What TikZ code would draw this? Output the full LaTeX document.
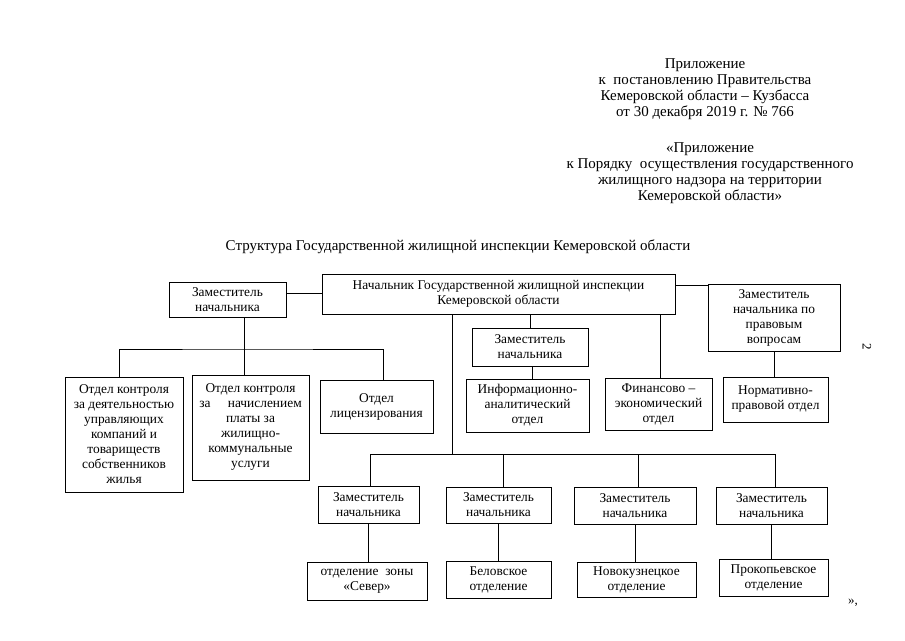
\documentclass[tikz,border=0pt]{standalone}
\usepackage{fontspec}
\setmainfont{Liberation Serif}
\tikzset{
  block/.style={draw,rectangle,line width=0.7pt,inner sep=1pt,align=center,font=\fontsize{13.4}{15}\selectfont},
  link/.style={line width=0.7pt},
  note/.style={align=center,font=\fontsize{15}{16.2}\selectfont}
}

\begin{document}
\begin{tikzpicture}[x=1pt,y=-1pt]
  \useasboundingbox (0,0) rectangle (905,640);
  \node[note] (app1) at (705,89) {Приложение\\к\ \ постановлению Правительства\\Кемеровской области – Кузбасса\\от 30 декабря 2019 г. № 766};
  \node[note] (app2) at (710,173) {«Приложение\\к Порядку\ \ осуществления государственного\\жилищного надзора на территории\\Кемеровской области»};
  \node[note] (title) at (458,247) {Структура Государственной жилищной инспекции Кемеровской области};

  \node[block,minimum width=353pt,minimum height=40pt] (boss) at (498.5,294) {Начальник Государственной жилищной инспекции\\Кемеровской области};
  \node[block,minimum width=117pt,minimum height=35pt] (depL) at (227.5,299.5) {Заместитель\\начальника};
  \node[block,minimum width=132pt,minimum height=67pt] (depR) at (774,317.5) {Заместитель\\начальника по\\правовым\\вопросам};
  \node[block,minimum width=116pt,minimum height=38pt] (depM) at (530,347) {Заместитель\\начальника};

  \node[block,minimum width=118pt,minimum height=115pt] (otdA) at (124,434.5) {Отдел контроля\\за деятельностью\\управляющих\\компаний и\\товариществ\\собственников\\жилья};
  \node[block,minimum width=117pt,minimum height=105pt] (otdB) at (250.5,427.5) {Отдел контроля\\за\hspace{1.3em}начислением\\платы за\\жилищно-\\коммунальные\\услуги};
  \node[block,minimum width=113pt,minimum height=53pt] (otdLic) at (376.5,406.5) {Отдел\\лицензирования};
  \node[block,minimum width=123pt,minimum height=53pt] (info) at (527.5,405.5) {Информационно-\\аналитический\\отдел};
  \node[block,minimum width=107pt,minimum height=52pt] (fin) at (658.5,404) {Финансово –\\экономический\\отдел};
  \node[block,minimum width=105pt,minimum height=45pt] (norm) at (775.5,399.5) {Нормативно-\\правовой отдел};

  \node[block,minimum width=101pt,minimum height=37pt] (d1) at (368.5,504.5) {Заместитель\\начальника};
  \node[block,minimum width=105pt,minimum height=36pt] (d2) at (498.5,505) {Заместитель\\начальника};
  \node[block,minimum width=122pt,minimum height=37pt] (d3) at (635,505.5) {Заместитель\\начальника};
  \node[block,minimum width=111pt,minimum height=37pt] (d4) at (771.5,505.5) {Заместитель\\начальника};
  \node[block,minimum width=120pt,minimum height=38pt] (b1) at (367,581) {отделение\ \ зоны\\«Север»};
  \node[block,minimum width=105pt,minimum height=37pt] (b2) at (498.5,579.5) {Беловское\\отделение};
  \node[block,minimum width=119pt,minimum height=35pt] (b3) at (636.5,579.5) {Новокузнецкое\\отделение};
  \node[block,minimum width=109pt,minimum height=37pt] (b4) at (773.5,577.5) {Прокопьевское\\отделение};

  \node[rotate=-90,font=\fontsize{13}{14}\selectfont] (page) at (867,347) {2};
  \node[font=\fontsize{13}{14}\selectfont] (close) at (853,603) {»,};

  \coordinate (busL) at (244,349);
  \coordinate (busB) at (452,454);

  \draw[link] ([yshift=6.5pt]depL.east) -- ([yshift=6.5pt]depL.east -| boss.west);
  \draw[link] ([yshift=9pt]boss.east) -- ([yshift=9pt]boss.east -| depR.west);
  \draw[link] ([xshift=16.5pt]depL.south) -- ([xshift=-6.5pt]otdB.north);
  \draw[link] ([xshift=-5pt]otdA.north) |- (busL) -| ([xshift=6.5pt]otdLic.north);
  \draw[link] (depM.north |- boss.south) -- (depM.north);
  \draw[link] ([xshift=2pt]depM.south) -- ([xshift=2pt]depM.south |- info.north);
  \draw[link] ([xshift=1.5pt]fin.north |- boss.south) -- ([xshift=1.5pt]fin.north);
  \draw[link] (depR.south) -- (depR.south |- norm.north);
  \draw[link] (busB |- boss.south) -- (busB);
  \draw[link] ([xshift=1.5pt]d1.north |- busB) -- ([xshift=3.5pt]d4.north |- busB);
  \foreach \d/\dx in {d1/1.5,d2/4.5,d3/3,d4/3.5}
    \draw[link] ([xshift=\dx pt]\d.north |- busB) -- ([xshift=\dx pt]\d.north);
  \foreach \d/\b in {d1/b1,d2/b2,d3/b3,d4/b4}
    \draw[link] (\d.south) -- (\d.south |- \b.north);
\end{tikzpicture}
\end{document}
